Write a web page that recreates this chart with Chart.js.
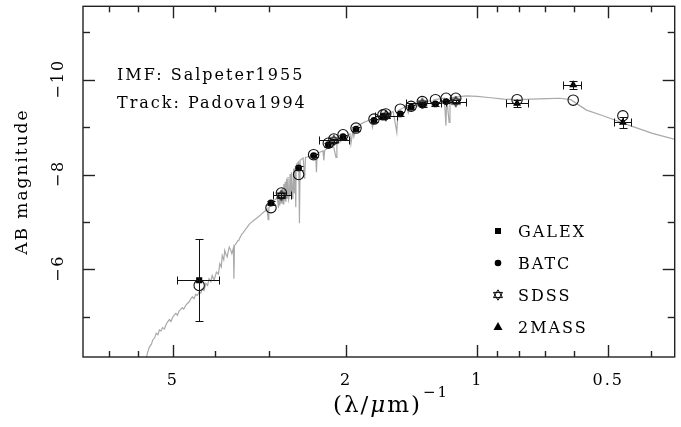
<!DOCTYPE html>
<html>
<head>
<meta charset="utf-8">
<script src="https://cdn.jsdelivr.net/npm/chart.js@4.4.1/dist/chart.umd.min.js"></script>
<style>
html, body { margin: 0; padding: 0; background: #fff; }
canvas { display: block; }
</style>
</head>
<body>
<canvas id="sed" width="681" height="427"></canvas>
<script>
"use strict";

// model spectrum, (lambda/um)^-1 vs AB mag
var specX = [5.75, 5.70, 5.66, 5.60, 5.56, 5.50, 5.46, 5.41, 5.37, 5.32, 5.28, 5.23, 5.18, 5.13, 5.09, 5.05,
    5.01, 4.96, 4.92, 4.88, 4.84, 4.80, 4.76, 4.72, 4.67, 4.63, 4.59, 4.55, 4.51, 4.47, 4.43, 4.39,
    4.35, 4.31, 4.28, 4.24, 4.20, 4.16, 4.13, 4.09, 4.06, 4.02, 3.97, 3.93, 3.90, 3.87, 3.85, 3.82,
    3.80, 3.77, 3.75, 3.73, 3.71, 3.68, 3.66, 3.63, 3.62, 3.61, 3.58, 3.55, 3.53, 3.50, 3.47, 3.44,
    3.42, 3.38, 3.34, 3.30, 3.26, 3.23, 3.20, 3.17, 3.15, 3.12, 3.09, 3.06, 3.04, 3.02, 3.01, 2.98,
    2.95, 2.93, 2.90, 2.88, 2.86, 2.85, 2.84, 2.83, 2.82, 2.81, 2.80, 2.79, 2.78, 2.77, 2.76, 2.75,
    2.74, 2.73, 2.72, 2.71, 2.70, 2.69, 2.68, 2.67, 2.66, 2.65, 2.64, 2.63, 2.62, 2.61, 2.605, 2.60,
    2.57, 2.56, 2.55, 2.53, 2.51, 2.49, 2.48, 2.46, 2.42, 2.38, 2.35, 2.34, 2.33, 2.30, 2.26, 2.25,
    2.24, 2.22, 2.18, 2.14, 2.11, 2.10, 2.07, 2.03, 1.98, 1.96, 1.95, 1.93, 1.92, 1.90, 1.88, 1.83,
    1.78, 1.75, 1.74, 1.72, 1.66, 1.62, 1.58, 1.56, 1.53, 1.52, 1.47, 1.45, 1.44, 1.42, 1.37, 1.32,
    1.28, 1.27, 1.26, 1.23, 1.19, 1.18, 1.175, 1.16, 1.155, 1.11, 1.06, 1.00, 0.93, 0.87, 0.81, 0.75,
    0.69, 0.646, 0.61, 0.561, 0.514, 0.48, 0.439, 0.396, 0.35];
var specY = [-4.14, -4.28, -4.36, -4.42, -4.51, -4.56, -4.65, -4.62, -4.72, -4.70, -4.77, -4.74, -4.84, -4.90, -4.94, -4.90,
    -4.98, -5.04, -5.07, -5.03, -5.12, -5.15, -5.19, -5.16, -5.24, -5.28, -5.31, -5.37, -5.42, -5.38, -5.47, -5.45,
    -5.52, -5.50, -5.59, -5.55, -5.70, -5.66, -5.80, -5.74, -5.87, -5.77, -5.94, -5.90, -6.12, -6.05, -6.29, -6.20,
    -6.40, -6.30, -6.26, -6.38, -6.47, -6.40, -6.33, -6.45, -5.80, -6.50, -6.54, -6.60, -6.61, -6.68, -6.75, -6.78,
    -6.82, -6.88, -6.95, -6.99, -7.03, -7.06, -7.09, -7.12, -7.14, -7.18, -7.21, -7.24, -7.28, -7.05, -7.30, -7.35,
    -7.40, -7.45, -7.48, -7.52, -7.30, -7.58, -7.35, -7.66, -7.40, -7.45, -7.72, -7.38, -7.80, -7.45, -7.85, -7.42,
    -7.91, -7.50, -7.95, -7.48, -7.55, -8.01, -7.55, -8.05, -7.50, -7.60, -8.12, -7.60, -8.15, -7.31, -8.18, -8.22,
    -8.27, -6.97, -8.30, -8.33, -8.35, -7.91, -8.36, -8.37, -8.39, -8.40, -8.43, -8.05, -8.45, -8.47, -8.50, -8.30,
    -8.51, -8.54, -8.57, -8.61, -8.36, -8.64, -8.68, -8.75, -8.82, -8.86, -8.65, -8.93, -8.80, -8.98, -9.03, -9.09,
    -9.14, -9.17, -9.00, -9.20, -9.24, -9.28, -9.31, -9.33, -8.89, -9.35, -9.42, -9.44, -9.30, -9.46, -9.49, -9.53,
    -9.56, -9.45, -9.57, -9.59, -9.61, -9.03, -9.61, -9.10, -9.62, -9.64, -9.66, -9.65, -9.62, -9.59, -9.58, -9.59,
    -9.60, -9.61, -9.58, -9.36, -9.24, -9.14, -9.01, -8.87, -8.74];

// GALEX NUV
var galexX = [4.35];
var galexY = [-5.77];
var galexXlo = [3.92];
var galexXhi = [4.88];
var galexErr = [0.86];

// BATC
var batcX = [2.976, 2.571, 2.375, 2.198, 2.033, 1.898, 1.726, 1.646, 1.502, 1.418, 1.335, 1.247, 1.179];
var batcY = [-7.40, -8.14, -8.40, -8.63, -8.80, -8.96, -9.14, -9.22, -9.28, -9.42, -9.47, -9.49, -9.54];
var batcErr = [0.05, 0.05, 0.04, 0.04, 0.04, 0.04, 0.04, 0.04, 0.04, 0.04, 0.04, 0.04, 0.04];

// SDSS
var sdssX = [2.816, 2.134, 1.622, 1.337, 1.120];
var sdssY = [-7.56, -8.72, -9.24, -9.50, -9.54];
var sdssXlo = [2.67, 1.97, 1.53, 1.21, 1.06];
var sdssXhi = [2.95, 2.31, 1.72, 1.46, 1.18];
var sdssErr = [0.05, 0.04, 0.04, 0.04, 0.04];

// 2MASS
var tmassX = [0.81, 0.602, 0.463];
var tmassY = [-9.50, -9.89, -9.10];
var tmassXlo = [0.763, 0.578, 0.444];
var tmassXhi = [0.857, 0.634, 0.486];
var tmassErr = [0.08, 0.09, 0.11];

// model magnitudes in the same bands (open circles)
var modelX = [4.35, 2.976, 2.816, 2.571, 2.375, 2.198, 2.134, 2.033, 1.898, 1.726, 1.646, 1.622,
    1.502, 1.418, 1.337, 1.247, 1.179, 1.120, 0.81, 0.602, 0.463];
var modelY = [-5.66, -7.30, -7.61, -8.00, -8.42, -8.66, -8.75, -8.84, -8.98, -9.17, -9.26, -9.28,
    -9.38, -9.44, -9.54, -9.58, -9.61, -9.61, -9.58, -9.57, -9.24];

var xTicks = [7, 6, 5, 4, 3, 2, 1, 0.9, 0.8, 0.7, 0.6, 0.5, 0.4];
var xMajor = [5, 2, 1, 0.5];
var xMajorLabels = ['5', '2', '1', '0.5'];
var yTicks = [-11, -10, -9, -8, -7, -6, -5];
var yMajor = [-10, -8, -6];
var yMajorLabels = ['\u221210', '\u22128', '\u22126'];

var legendNames = ['GALEX', 'BATC', 'SDSS', '2MASS'];
var notes = ['IMF: Salpeter1955', 'Track: Padova1994'];

var FONT = '"DejaVu Serif", serif';

function pts(xs, ys) {
    return xs.map(function (x, i) { return { x: x, y: ys[i] }; });
}

function hexagram(size) {
    var c = document.createElement('canvas');
    c.width = c.height = size;
    var g = c.getContext('2d');
    var cx = size / 2, cy = size / 2, r = size / 2 - 0.8;
    g.strokeStyle = '#000';
    g.lineWidth = 1;
    [-Math.PI / 2, Math.PI / 2].forEach(function (off) {
        g.beginPath();
        for (var k = 0; k < 3; k++) {
            var a = off + k * 2 * Math.PI / 3;
            var px = cx + r * Math.cos(a), py = cy + r * Math.sin(a);
            if (k) g.lineTo(px, py); else g.moveTo(px, py);
        }
        g.closePath();
        g.stroke();
    });
    return c;
}
var star = hexagram(12);

function line(ctx, x1, y1, x2, y2) {
    ctx.beginPath();
    ctx.moveTo(x1, y1);
    ctx.lineTo(x2, y2);
    ctx.stroke();
}

var errorBars = {
    id: 'errorBars',
    afterDatasetsDraw: function (chart) {
        var xs = chart.scales.x, ys = chart.scales.y, ctx = chart.ctx;
        ctx.save();
        ctx.strokeStyle = '#111';
        ctx.lineWidth = 1;
        function bars(X, Y, E, XL, XH) {
            X.forEach(function (x, i) {
                var px = Math.round(xs.getPixelForValue(x)) + 0.5;
                var py = Math.round(ys.getPixelForValue(Y[i])) + 0.5;
                if (E) {
                    var a = Math.round(ys.getPixelForValue(Y[i] - E[i])) + 0.5;
                    var b = Math.round(ys.getPixelForValue(Y[i] + E[i])) + 0.5;
                    line(ctx, px, a, px, b);
                    line(ctx, px - 4, a, px + 4, a);
                    line(ctx, px - 4, b, px + 4, b);
                }
                if (XL) {
                    var l = Math.round(xs.getPixelForValue(XL[i])) + 0.5;
                    var r = Math.round(xs.getPixelForValue(XH[i])) + 0.5;
                    line(ctx, l, py, r, py);
                    line(ctx, l, py - 4, l, py + 4);
                    line(ctx, r, py - 4, r, py + 4);
                }
            });
        }
        bars(galexX, galexY, galexErr, galexXlo, galexXhi);
        bars(batcX, batcY, batcErr);
        bars(sdssX, sdssY, sdssErr, sdssXlo, sdssXhi);
        bars(tmassX, tmassY, tmassErr, tmassXlo, tmassXhi);
        ctx.restore();
    }
};

var frame = {
    id: 'frame',
    beforeDraw: function (chart) {
        chart.ctx.letterSpacing = '2px';
    },
    afterDraw: function (chart) {
        var ctx = chart.ctx, a = chart.chartArea;
        var xs = chart.scales.x, ys = chart.scales.y;
        ctx.save();
        ctx.strokeStyle = '#222';
        ctx.lineWidth = 1.4;
        ctx.strokeRect(a.left, a.top, a.right - a.left, a.bottom - a.top);
        xTicks.forEach(function (v) {
            var p = Math.round(xs.getPixelForValue(v)) + 0.5;
            var len = xMajor.indexOf(v) >= 0 ? 12 : 6;
            line(ctx, p, a.bottom, p, a.bottom - len);
            line(ctx, p, a.top, p, a.top + len);
        });
        yTicks.forEach(function (v) {
            var p = Math.round(ys.getPixelForValue(v)) + 0.5;
            var len = yMajor.indexOf(v) >= 0 ? 12 : 7;
            line(ctx, a.left, p, a.left + len, p);
            line(ctx, a.right, p, a.right - len, p);
        });

        ctx.fillStyle = '#000';
        ctx.letterSpacing = '2px';
        // y tick labels, rotated like the axis title
        ctx.font = '16px ' + FONT;
        ctx.textAlign = 'center';
        ctx.textBaseline = 'middle';
        yMajor.forEach(function (v, i) {
            ctx.save();
            ctx.translate(59, ys.getPixelForValue(v));
            ctx.rotate(-Math.PI / 2);
            ctx.fillText(yMajorLabels[i], 1, 0);
            ctx.restore();
        });

        // x axis title with superscript
        ctx.textAlign = 'left';
        ctx.textBaseline = 'alphabetic';
        ctx.letterSpacing = '2px';
        ctx.font = '23px ' + FONT;
        var w1 = ctx.measureText('(\u03bb/').width;
        ctx.font = 'italic 23px ' + FONT;
        var w2 = ctx.measureText('\u03bc').width;
        ctx.font = '23px ' + FONT;
        var w3 = ctx.measureText('m)').width;
        ctx.font = '15px ' + FONT;
        var w4 = ctx.measureText('\u22121').width;
        var x0 = 391 - (w1 + w2 + w3 + w4 + 1) / 2;
        ctx.font = '23px ' + FONT;
        ctx.fillText('(\u03bb/', x0, 412);
        ctx.font = 'italic 23px ' + FONT;
        ctx.fillText('\u03bc', x0 + w1, 412);
        ctx.font = '23px ' + FONT;
        ctx.fillText('m)', x0 + w1 + w2, 412);
        ctx.font = '15px ' + FONT;
        ctx.fillText('\u22121', x0 + w1 + w2 + w3 + 1, 397);

        // notes
        ctx.font = '16px ' + FONT;
        ctx.fillText(notes[0], 117, 80);
        ctx.fillText(notes[1], 117, 108);

        // legend
        var lx = 498, ly = [231, 263, 295, 327];
        ctx.fillRect(lx - 3, ly[0] - 3, 6, 6);
        ctx.beginPath();
        ctx.arc(lx, ly[1], 3.3, 0, Math.PI * 2);
        ctx.fill();
        ctx.drawImage(star, lx - 6, ly[2] - 6);
        ctx.beginPath();
        ctx.moveTo(lx, ly[3] - 5);
        ctx.lineTo(lx + 4.5, ly[3] + 3);
        ctx.lineTo(lx - 4.5, ly[3] + 3);
        ctx.closePath();
        ctx.fill();
        ctx.font = '16px ' + FONT;
        legendNames.forEach(function (n, i) {
            ctx.fillText(n, 518, ly[i] + 6);
        });
        ctx.restore();
    }
};

var ctx = document.querySelector('#sed').getContext('2d');

var sedChart = new Chart(ctx, {
    type: 'scatter',
    data: {
        datasets: [{
            label: 'GALEX',
            data: pts(galexX, galexY),
            pointStyle: 'rect',
            pointRadius: 4.3,
            backgroundColor: '#000',
            borderColor: '#000',
            borderWidth: 0,
            order: 1
        }, {
            label: 'BATC',
            data: pts(batcX, batcY),
            pointStyle: 'circle',
            pointRadius: 3.4,
            backgroundColor: '#000',
            borderColor: '#000',
            borderWidth: 0,
            order: 1
        }, {
            label: 'SDSS',
            data: pts(sdssX, sdssY),
            pointStyle: star,
            order: 1
        }, {
            label: '2MASS',
            data: pts(tmassX, tmassY),
            pointStyle: 'triangle',
            pointRadius: 4.6,
            backgroundColor: '#000',
            borderColor: '#000',
            borderWidth: 0,
            order: 1
        }, {
            label: 'model',
            data: pts(modelX, modelY),
            pointStyle: 'circle',
            pointRadius: 5.2,
            backgroundColor: 'rgba(255,255,255,0)',
            borderColor: '#111',
            borderWidth: 1.1,
            order: 5
        }, {
            label: 'spectrum',
            data: pts(specX, specY),
            showLine: true,
            pointRadius: 0,
            borderColor: '#a9a9a9',
            borderWidth: 1.2,
            order: 10
        }]
    },
    options: {
        responsive: false,
        animation: false,
        devicePixelRatio: 1,
        layout: {
            padding: { top: 6, right: 2, left: 0, bottom: 0 }
        },
        plugins: {
            legend: false,
            tooltip: { enabled: false }
        },
        scales: {
            x: {
                type: 'logarithmic',
                reverse: true,
                min: 0.352,
                max: 8.04,
                afterBuildTicks: function (s) {
                    s.ticks = xTicks.map(function (v) { return { value: v }; });
                },
                afterFit: function (s) { s.height = 70; },
                grid: { display: false, drawTicks: false },
                border: { display: false },
                ticks: {
                    autoSkip: false,
                    maxRotation: 0,
                    padding: 14,
                    color: '#000',
                    font: { family: FONT, size: 16 },
                    callback: function (v) {
                        var i = xMajor.indexOf(v);
                        return i >= 0 ? xMajorLabels[i] : '';
                    }
                }
            },
            y: {
                reverse: true,
                min: -11.55,
                max: -4.15,
                afterFit: function (s) { s.width = 83; },
                grid: { display: false, drawTicks: false },
                border: { display: false },
                ticks: { display: false },
                title: {
                    display: true,
                    text: 'AB magnitude',
                    color: '#000',
                    font: { family: FONT, size: 17 },
                    padding: { top: 12, bottom: 0 }
                }
            }
        }
    },
    plugins: [errorBars, frame]
});
</script>
</body>
</html>
